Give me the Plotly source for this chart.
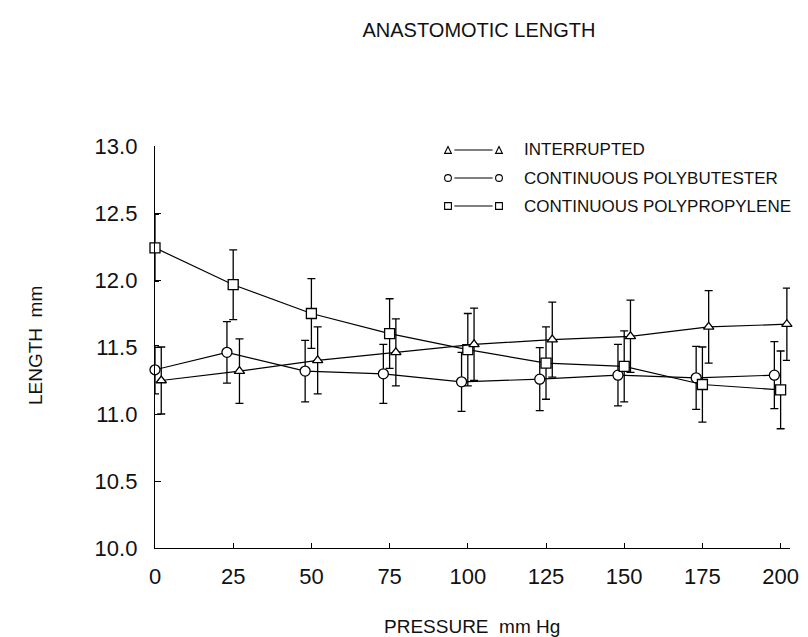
import plotly.graph_objects as go

# ---------------- data ----------------
pressure = [0, 25, 50, 75, 100, 125, 150, 175, 200]
interrupted = [11.25, 11.32, 11.40, 11.46, 11.52, 11.555, 11.58, 11.65, 11.67]
interrupted_err = [0.25, 0.24, 0.25, 0.25, 0.27, 0.28, 0.27, 0.27, 0.27]
polybutester = [11.33, 11.46, 11.32, 11.30, 11.24, 11.26, 11.29, 11.27, 11.29]
polybutester_err = [0.18, 0.23, 0.23, 0.22, 0.22, 0.235, 0.23, 0.235, 0.25]
polypropylene = [12.24, 11.965, 11.75, 11.60, 11.48, 11.38, 11.355, 11.22, 11.18]
polypropylene_err = [0.25, 0.26, 0.26, 0.26, 0.27, 0.27, 0.265, 0.28, 0.29]
x_ticks = [0, 25, 50, 75, 100, 125, 150, 175, 200]
y_ticks = [10.0, 10.5, 11.0, 11.5, 12.0, 12.5, 13.0]
legend_labels = ["INTERRUPTED", "CONTINUOUS POLYBUTESTER", "CONTINUOUS POLYPROPYLENE"]

# small horizontal offsets used in the original to separate series
x_int = [p + 2 for p in pressure]
x_pb = [max(p - 2, 0) for p in pressure]
x_pp = list(pressure)

FONT = "Liberation Sans"
W, H = 808, 637
L, R, T, B = 147, 26, 138, 97
PW, PH = W - L - R, H - T - B

fig = go.Figure()

def add_series(x, y, e, symbol, size):
    fig.add_trace(go.Scatter(
        x=x, y=y, mode="lines+markers",
        line=dict(color="black", width=1.2),
        marker=dict(symbol=symbol, size=size, color="white",
                    line=dict(color="black", width=1.3)),
        error_y=dict(type="data", array=e, visible=True,
                     color="black", thickness=1.3, width=4),
        cliponaxis=False, showlegend=False))

add_series(x_pb, polybutester, polybutester_err, "circle", 10)
add_series(x_pp, polypropylene, polypropylene_err, "square", 10)
add_series(x_int, interrupted, interrupted_err, "triangle-up", 9)

# ---------------- custom legend (paper coords) ----------------
def px(xp):
    return (xp - L) / PW

def py(yp):
    return (T + PH - yp) / PH

shapes = []
annotations = []
rows_y = [142, 170, 198]
mx1, mx2, tx = 440, 491, 514
hs = 3.4
for i, (lab, yp) in enumerate(zip(legend_labels, rows_y)):
    shapes.append(dict(type="line", xref="paper", yref="paper",
                       x0=px(mx1 + hs + 3), x1=px(mx2 - hs - 3), y0=py(yp), y1=py(yp),
                       line=dict(color="black", width=1.1)))
    for cx in (mx1, mx2):
        if i == 0:
            path = "M {} {} L {} {} L {} {} Z".format(
                px(cx - hs), py(yp + hs), px(cx + hs), py(yp + hs), px(cx), py(yp - hs))
            shapes.append(dict(type="path", xref="paper", yref="paper", path=path,
                               line=dict(color="black", width=1.1)))
        elif i == 1:
            shapes.append(dict(type="circle", xref="paper", yref="paper",
                               x0=px(cx - hs), x1=px(cx + hs), y0=py(yp + hs), y1=py(yp - hs),
                               line=dict(color="black", width=1.1)))
        else:
            shapes.append(dict(type="rect", xref="paper", yref="paper",
                               x0=px(cx - hs), x1=px(cx + hs), y0=py(yp + hs), y1=py(yp - hs),
                               line=dict(color="black", width=1.1)))
    annotations.append(dict(text=lab, xref="paper", yref="paper", x=px(tx), y=py(yp),
                            xanchor="left", yanchor="middle", showarrow=False,
                            font=dict(family=FONT, size=17, color="#111")))

annotations.append(dict(text="PRESSURE  mm Hg", xref="paper", yref="paper",
                        x=px(464), y=py(618), xanchor="center", yanchor="middle",
                        showarrow=False, font=dict(family=FONT, size=19, color="#111")))
annotations.append(dict(text="LENGTH  mm", xref="paper", yref="paper",
                        x=px(27), y=py(338), xanchor="center", yanchor="middle",
                        textangle=-90, showarrow=False,
                        font=dict(family=FONT, size=19, color="#111")))

fig.update_layout(
    width=W, height=H,
    margin=dict(l=L, r=R, t=T, b=B),
    paper_bgcolor="white", plot_bgcolor="white",
    title=dict(text="ANASTOMOTIC LENGTH", x=471 / W, xref="container",
               y=1 - 22 / H, yref="container", xanchor="center", yanchor="middle",
               font=dict(family=FONT, size=20, color="#111")),
    shapes=shapes, annotations=annotations,
    xaxis=dict(range=[0, 203], tickvals=x_ticks, ticktext=[str(v) for v in x_ticks],
               ticks="inside", ticklen=5, tickcolor="black", tickwidth=1.2,
               showline=True, linecolor="black", linewidth=1.4,
               showgrid=False, zeroline=False, ticklabelstandoff=8,
               tickfont=dict(family=FONT, size=22, color="#111")),
    yaxis=dict(range=[10, 13], tickvals=y_ticks, ticktext=["%.1f" % v for v in y_ticks],
               ticks="inside", ticklen=6, tickcolor="black", tickwidth=1.2,
               showline=True, linecolor="black", linewidth=1.4,
               showgrid=False, zeroline=False, ticklabelstandoff=12,
               tickfont=dict(family=FONT, size=22, color="#111")),
)

fig.write_html("out.html")
